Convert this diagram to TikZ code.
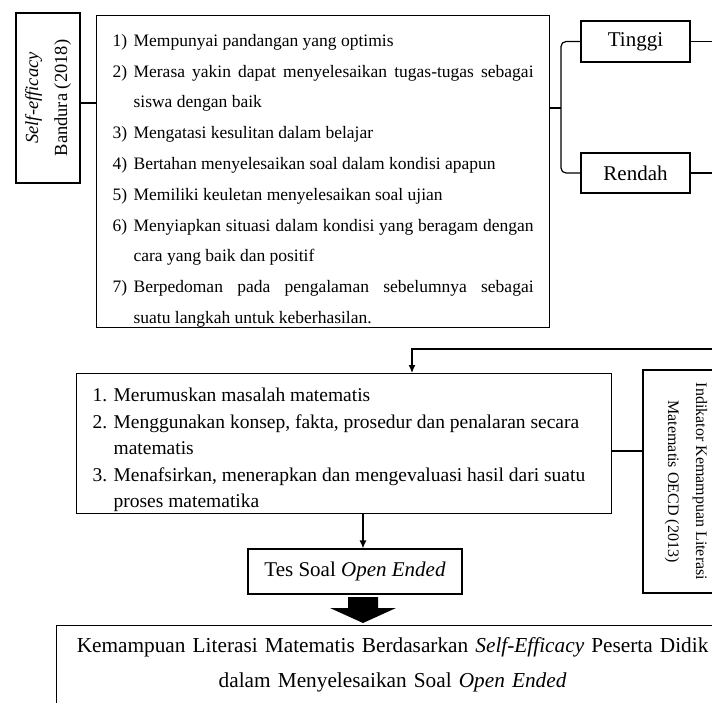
\documentclass[tikz,border=0pt]{standalone}
\usepackage{fontspec}
\setmainfont{Liberation Serif}
\usetikzlibrary{arrows.meta}

\newcommand{\traititem}[2]{\par\noindent\hangindent=21pt\hangafter=1\makebox[21pt][l]{#1}#2}

\begin{document}
\begin{tikzpicture}[x=1pt,y=-1pt,line width=1.2pt,
    box/.style={draw,inner sep=0pt},
    tip/.style={-{Latex[length=8pt,width=7pt]}}]
  \clip (0,0) rectangle (712,703);
  \node[box,rotate=90,minimum width=170pt,minimum height=64pt,align=center,
    font=\fontsize{18.5}{29}\selectfont] (self) at (48,98)
    {\textit{Self-efficacy}\\Bandura (2018)};
  \node[box,anchor=north west,minimum width=453pt,minimum height=310pt,
    text width=421pt,inner xsep=16pt,align=justify,
    font=\fontsize{17.5}{30.8}\selectfont] (traits) at (96,15) {%
    \traititem{1)}{Mempunyai pandangan yang optimis}
    \traititem{2)}{Merasa yakin dapat menyelesaikan tugas-tugas sebagai\linebreak siswa dengan baik}
    \traititem{3)}{Mengatasi kesulitan dalam belajar}
    \traititem{4)}{Bertahan menyelesaikan soal dalam kondisi apapun}
    \traititem{5)}{Memiliki keuletan menyelesaikan soal ujian}
    \traititem{6)}{Menyiapkan situasi dalam kondisi yang beragam dengan\linebreak cara yang baik dan positif}
    \traititem{7)}{Berpedoman pada pengalaman sebelumnya sebagai\linebreak suatu langkah untuk keberhasilan.}\par};
  \node[box,minimum width=109pt,minimum height=41pt,font=\fontsize{21}{25}\selectfont]
    (tinggi) at (635.5,41.5) {Tinggi};
  \node[box,minimum width=109pt,minimum height=40pt,font=\fontsize{21}{25}\selectfont]
    (rendah) at (635.5,173) {Rendah};
  \node[box,anchor=north west,minimum width=535pt,minimum height=140pt,
    text width=503pt,inner xsep=16pt,align=flush left,
    font=\fontsize{19.5}{26.5}\selectfont] (ind) at (76,373) {%
    \traititem{1.}{Merumuskan masalah matematis}
    \traititem{2.}{Menggunakan konsep, fakta, prosedur dan penalaran secara\newline matematis}
    \traititem{3.}{Menafsirkan, menerapkan dan mengevaluasi hasil dari suatu\newline proses matematika}\par};
  \node[box,rotate=-90,minimum width=223pt,minimum height=86pt,align=center,
    font=\fontsize{16}{28}\selectfont] (oecd) at (686,481.5)
    {Indikator Kemampuan Literasi\\Matematis OECD (2013)};
  \node[box,minimum width=214pt,minimum height=45pt,font=\fontsize{21}{25}\selectfont]
    (tes) at (355,571.5) {Tes Soal \textit{Open Ended}};
  \node[box,anchor=north west,minimum width=672pt,text width=640pt,inner xsep=16pt,
    inner ysep=11.5pt,text depth=60pt,align=center,
    font=\fontsize{21.3}{35}\selectfont] (hasil) at (56,625)
    {Kemampuan Literasi Matematis Berdasarkan \textit{Self-Efficacy} Peserta Didik\\
     dalam Menyelesaikan Soal \textit{Open Ended}};
  \coordinate (j1) at (88,103);
  \coordinate (fork) at (561,108);
  \coordinate (out) at (730,0);
  \coordinate (back) at (412,349);
  \coordinate (j2) at (627,451);
  \coordinate (j3) at (363,530);
  \draw (j1 -| self.south) -- (j1 -| traits.west);
  \draw (fork -| traits.east) -- (fork);
  \draw[rounded corners=5pt] (tinggi.west) -| (fork) |- (rendah.west);
  \draw (tinggi.east) -- (tinggi.east -| out);
  \draw (rendah.east) -- (rendah.east -| out);
  \draw[tip] (back -| out) -- (back) -- (back |- ind.north);
  \draw (j2 -| ind.east) -- (j2 -| oecd.south);
  \draw[tip] (j3 |- ind.south) -- (j3 |- tes.north);
  \fill (348,597) -- (378,597) -- (378,608) -- (396,608) -- (363,623)
    -- (330,608) -- (348,608) -- cycle;
\end{tikzpicture}
\end{document}
